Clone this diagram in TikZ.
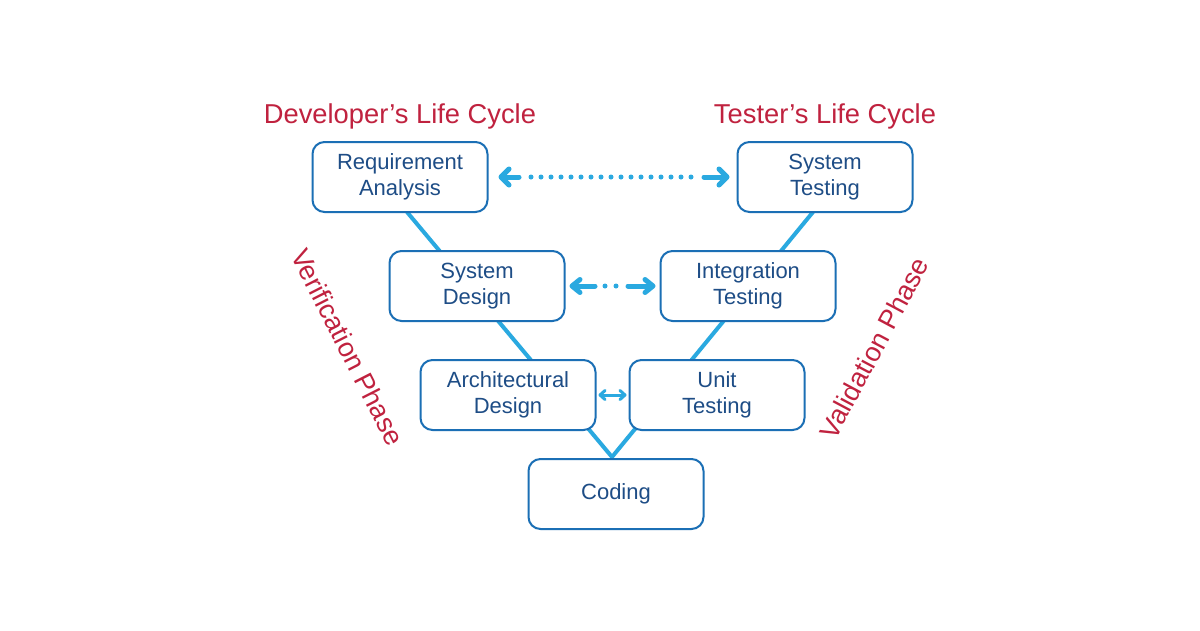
\documentclass[tikz,border=0pt]{standalone}
\usepackage{fontspec}
\setmainfont{Liberation Sans}
\usetikzlibrary{arrows.meta,backgrounds}
\definecolor{crim}{HTML}{C0223F}
\definecolor{lblue}{HTML}{2AA9E0}
\definecolor{bord}{HTML}{1B6FB5}
\definecolor{ntext}{HTML}{1E4D86}
\begin{document}
\begin{tikzpicture}[x=1pt,y=-1pt,
  box/.style={draw=bord, line width=2pt, fill=white, rounded corners=12pt,
    minimum width=175pt, minimum height=70pt, align=center, text=ntext,
    font=\fontsize{22}{26}\selectfont, inner sep=0pt},
  ttl/.style={text=crim, font=\fontsize{27.3}{32}\selectfont, anchor=base, inner sep=0pt},
  phase/.style={text=crim, font=\fontsize{27}{32}\selectfont, inner sep=0pt},
  vline/.style={draw=lblue, line width=4pt},
  bigarr/.style={draw=lblue, line width=5pt, line cap=round,
    {Straight Barb[length=8pt,width=16pt,round]}-},
  midarr/.style={draw=lblue, line width=5pt, line cap=round,
    {Straight Barb[length=8pt,width=13pt,round]}-},
  dots/.style={draw=lblue, line width=5pt, line cap=round, dash pattern=on 0pt off 10pt},
  smallarr/.style={draw=lblue, line width=3pt, line cap=round,
    {Straight Barb[length=5pt,width=9pt,round]}-{Straight Barb[length=5pt,width=9pt,round]}},
]
\begin{scope}[on background layer]
  \fill[white] (0,0) rectangle (1200,630);
\end{scope}
\useasboundingbox (0,0) rectangle (1200,630);

% V lines (drawn before the boxes, so the boxes cover them)
\coordinate (apex) at (612,457);
\coordinate (lt) at (407,212);
\coordinate (rt) at (813,212);
\draw[vline] (lt) -- (apex) -- (rt);

% titles
\node[ttl] (dev) at (400,123) {Developer’s Life Cycle};
\node[ttl] (tst) at (825,123) {Tester’s Life Cycle};

% boxes
\node[box] (RA) at (400,177) {Requirement\\Analysis};
\node[box] (ST) at (825,177) {System\\Testing};
\node[box] (SD) at (477,286) {System\\Design};
\node[box] (IT) at (748,286) {Integration\\Testing};
\node[box] (AD) at (508,395) {Architectural\\Design};
\node[box] (UT) at (717,395) {Unit\\Testing};
\node[box] (CO) at (616,494) {Coding};

% phase labels
\node[phase, rotate=-63] (vp) at (348,347) {Verification Phase};
\node[phase, rotate=62] (vap) at (874,348) {Validation Phase};

% top arrow: solid ends, dotted middle
\coordinate (s1) at (519,177);
\coordinate (s2) at (704,177);
\coordinate (d1) at (531,177);
\coordinate (d2) at (693,177);
\draw[bigarr, shorten <=10pt] (RA.east) -- (s1);
\draw[bigarr, shorten <=7pt] (ST.west) -- (s2);
\draw[dots] (d1) -- (d2);

% middle arrow
\coordinate (t1) at (595,286);
\coordinate (t2) at (628,286);
\coordinate (e1) at (605,286);
\coordinate (e2) at (618,286);
\draw[midarr, shorten <=4pt] (SD.east) -- (t1);
\draw[midarr, shorten <=4pt] (IT.west) -- (t2);
\draw[dots, dash pattern=on 0pt off 11pt] (e1) -- (e2);

% small arrow
\draw[smallarr, shorten <=2pt, shorten >=2pt] (AD.east) -- (UT.west);
\end{tikzpicture}
\end{document}
